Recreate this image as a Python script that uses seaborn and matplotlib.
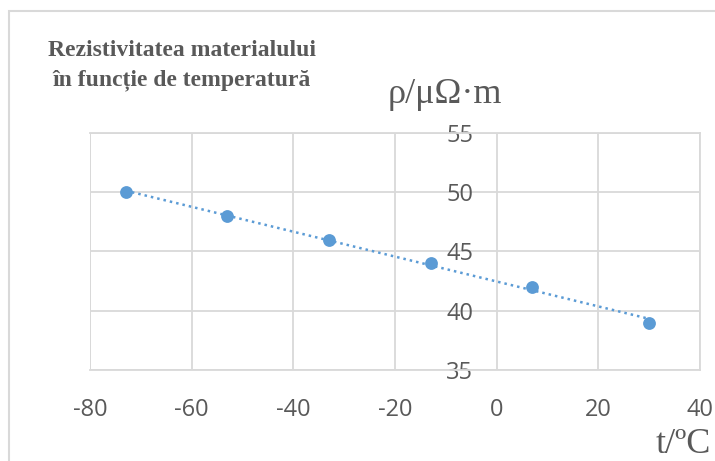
import numpy as np
import pandas as pd
import matplotlib.pyplot as plt
from matplotlib.patches import Rectangle
import seaborn as sns

# data
temperature = [-73, -53, -33, -13, 7, 30]
resistivity = [50, 48, 46, 44, 42, 39]
x_ticks = [-80, -60, -40, -20, 0, 20, 40]
y_ticks = [35, 40, 45, 50, 55]

title_lines = ["Rezistivitatea materialului", "în funcție de temperatură"]
y_label = "ρ/μΩ·m"
x_label = "t/ºC"

blue = "#5b9bd5"
grid_c = "#d9d9d9"
text_c = "#595959"

df = pd.DataFrame({"t": temperature, "rho": resistivity})

sns.set_style("white")
plt.rcParams["font.family"] = ["Open Sans", "DejaVu Sans"]
plt.rcParams["axes.unicode_minus"] = False

fig = plt.figure(figsize=(7.15, 4.61), dpi=100)
ax = fig.add_axes([0.1259, 0.1974, 0.853, 0.5141])

sns.regplot(
    data=df, x="t", y="rho", ax=ax, ci=None,
    scatter_kws={"s": 85, "color": blue, "alpha": 1, "zorder": 4, "linewidths": 0},
    line_kws={"color": blue, "lw": 1.8, "ls": (0, (1, 1.6)), "zorder": 3},
)

ax.set_xlim(-80, 40)
ax.set_ylim(35, 55)
ax.set_xticks(x_ticks)
ax.set_yticks(y_ticks)
ax.grid(True, color=grid_c, lw=1.3)
ax.set_axisbelow(True)
for s in ax.spines.values():
    s.set_color(grid_c)
    s.set_linewidth(1.3)
ax.spines["left"].set_position(("data", 0))
ax.spines["left"].set_visible(False)
ax.tick_params(axis="both", length=0, labelsize=17, labelcolor=text_c)
ax.tick_params(axis="x", pad=20)
ax.tick_params(axis="y", pad=17)
ax.set_xlabel("")
ax.set_ylabel("")
# left frame edge of the plot area
ax.axvline(-80, color=grid_c, lw=1.3)

fig.text(182 / 715, 1 - 50 / 461, title_lines[0], ha="center", va="center",
         family=["Liberation Serif"], fontweight="bold", fontsize=17, color=text_c)
fig.text(182 / 715, 1 - 80 / 461, title_lines[1], ha="center", va="center",
         family=["Liberation Serif"], fontweight="bold", fontsize=17, color=text_c)
fig.text(388 / 715, 1 - 103 / 461, y_label, ha="left", va="baseline",
         family=["Liberation Serif"], fontsize=26, color=text_c)
fig.text(656 / 715, 1 - 453 / 461, x_label, ha="left", va="baseline",
         family=["Liberation Serif"], fontsize=26, color=text_c)

# outer chart border (cropped on the right and bottom)
fig.patches.append(Rectangle((9 / 715, -0.1), 1.2, 1 - 11 / 461 + 0.1,
                             transform=fig.transFigure, fill=False,
                             edgecolor=grid_c, lw=1.5, clip_on=False))

fig.savefig("out.png", dpi=100)
